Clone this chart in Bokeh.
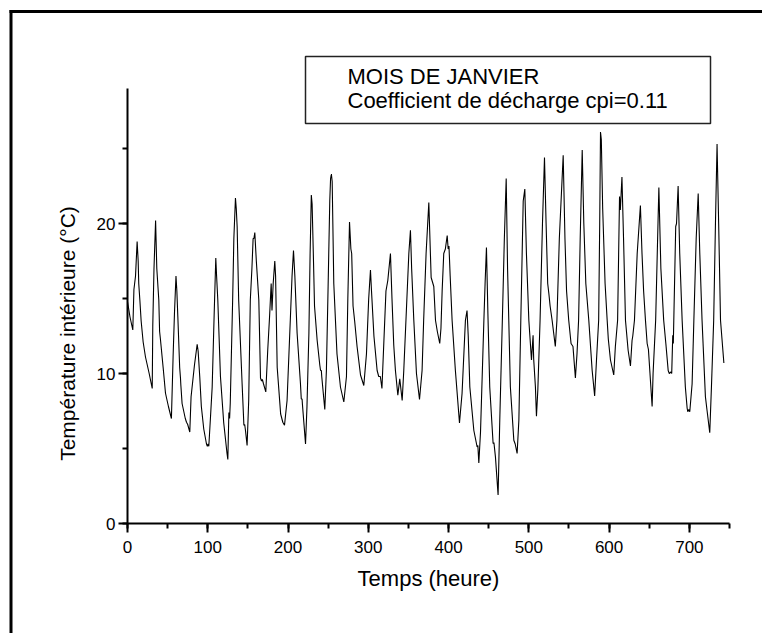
from math import pi
from bokeh.plotting import figure
from bokeh.models import Range1d, BoxAnnotation, Label, SingleIntervalTicker, LinearAxis
from bokeh.embed import file_html
from bokeh.resources import INLINE

# ---- data ----
hours = [
    0, 3, 6.6, 8, 10, 12, 13.3, 14, 15.4, 17, 19.5, 22.4, 27, 30.8, 31.5, 33, 35,
    36.5, 39, 40, 41, 44.4, 47.3, 48.5, 51, 54.7, 56.8, 58.5, 60.4,
    61.5, 62.7, 65, 66, 66.5, 68, 72, 73.5, 75, 77.6, 79.2, 83.4, 86.8,
    88, 90, 92, 95, 98.4, 99.5, 100.5, 101.3, 103.4, 105.5, 108, 110,
    111, 112.5, 115.8, 119.9, 124, 125, 126.3, 127.2, 128, 131, 132.5, 134.5,
    135.5, 136.6, 138.5, 142.8, 145, 146, 147, 149, 151, 153, 155, 156.5, 157.5, 158.6,
    160.5, 163.6, 165.7, 167, 168, 169.5, 172.3, 174.7, 177, 179, 180, 181.5, 183.5,
    184.5, 186.5, 190.8, 193.5, 195.6, 198.8, 203, 205, 206.8,
    208.5, 211.3, 215.5, 216.5, 217.5, 218, 221.8, 223.6, 226, 227.5, 229,
    230, 231.5, 233, 236.3, 239.6, 240.5, 241.5, 242, 245.8, 247.8, 250, 252, 253, 254, 255,
    257, 261, 265.3, 269.5, 272.8, 274.5, 276.6, 278.3, 279.3, 281,
    283, 286, 290.3, 294.4, 297.7, 300.5, 302.7,
    304, 307, 311, 313, 315, 317, 319.3, 322, 324.3, 327.6,
    329.5, 331.7, 333.8, 336.8, 339.2, 342.2, 344.2, 348, 350.5, 352.5,
    354, 356.7, 360, 363.8, 367, 369, 372, 375.4,
    376.5, 378.3, 381.6, 383.7, 386, 389, 390.5, 392, 394, 396, 398.3, 399.5, 400.5,
    402, 404.4, 408.5, 413.6, 416.8, 421, 423,
    424.5, 426.5, 431.5, 435.6, 436.5, 437.7, 439.8, 444, 445.5, 447.2,
    449, 451.3, 455.5, 456.5, 458.4, 461.7, 463.8, 467, 469.5, 471.8,
    473.5, 477, 481.3, 483, 485.4, 487.6, 490, 493, 495,
    497, 500, 503.3, 505.3, 506, 508.2, 509.5, 511.2, 514, 517, 519.5,
    521.5, 523.5, 525, 526.5, 529, 533, 535, 538, 542.8,
    545, 547, 549.7, 552.6, 555, 558, 560, 562, 564, 566.5,
    568.5, 571, 574.7, 578.9, 582, 584.3, 587, 588.3, 589.3, 590.3,
    592, 595, 597.6, 599, 601.7, 605.8, 607.8, 610.6, 613, 614, 616,
    618, 620.4, 623.7, 626.6, 628.6, 629.5, 631.6, 635, 639,
    641, 643, 645.3, 647.4, 649, 653.6, 654.8, 658, 660, 662,
    664.5, 668, 670.7, 673.6, 675, 677, 678, 679.3, 680, 683, 684, 686,
    688, 691, 695, 697.2, 698, 699.3, 700.5, 703.4, 705.6, 708.5, 711,
    713, 715.8, 720, 722, 725.4, 727.5, 730.3, 732.5, 734.5,
    736.5, 738.8, 743,
]
temperature = [
    14.8, 13.8, 12.9, 15.6, 16.5, 18.8, 17.5, 16.0, 14.9, 13.5, 12.1, 11.1, 10.0, 9.0, 13.2, 17.0, 20.2,
    17.0, 14.9, 12.8, 12.3, 10.4, 8.7, 8.4, 7.8, 7.0, 11.1, 14.0, 16.5,
    15.5, 13.8, 10.4, 9.7, 9.2, 8.0, 7.0, 6.75, 6.6, 6.1, 8.45, 10.55, 11.95,
    11.5, 9.8, 7.8, 6.3, 5.3, 5.15, 5.3, 5.15, 7.1, 9.1, 14.0, 17.7,
    16.5, 14.9, 9.8, 6.7, 4.67, 4.27, 7.4, 7.0, 8.0, 14.9, 19.0, 21.7,
    21.0, 19.8, 14.9, 9.3, 6.55, 6.6, 6.2, 5.2, 8.2, 14.9, 17.0, 19.0, 19.0, 19.4,
    17.5, 14.9, 9.7, 9.5, 9.6, 9.3, 8.77, 11.55, 13.8, 16.0, 14.2, 16.0, 17.5,
    16.5, 10.4, 7.3, 6.75, 6.55, 8.2, 13.8, 16.5, 18.2,
    16.5, 12.7, 9.3, 8.3, 8.3, 7.9, 5.3, 7.8, 12.7, 18.0, 21.9,
    21.3, 18.0, 14.5, 12.2, 10.55, 10.2, 10.2, 9.8, 7.6, 10.2, 16.0, 21.5, 23.0, 23.3, 22.8,
    16.0, 11.3, 9.1, 8.1, 9.8, 15.0, 20.1, 18.3, 18.0, 14.5,
    13.5, 11.8, 9.9, 9.2, 11.3, 15.0, 16.9,
    15.5, 12.5, 10.2, 9.8, 9.8, 9.0, 12.0, 15.5, 16.2, 18.0,
    15.0, 11.9, 10.2, 8.55, 9.65, 8.2, 10.2, 14.9, 18.0, 19.55,
    17.0, 13.55, 10.0, 8.27, 10.2, 13.6, 18.0, 21.4,
    19.5, 16.4, 15.8, 13.55, 12.8, 12.0, 13.0, 15.5, 18.0, 18.3, 19.2, 18.3, 18.5,
    16.5, 13.55, 10.2, 6.7, 8.67, 13.55, 14.2,
    12.5, 9.1, 6.2, 5.1, 5.2, 4.04, 6.1, 13.55, 16.0, 18.4,
    14.0, 9.1, 5.33, 5.4, 4.44, 1.9, 6.9, 13.55, 19.0, 23.0,
    17.0, 9.1, 5.55, 5.3, 4.67, 6.9, 13.55, 21.5, 22.3,
    18.0, 13.55, 10.9, 12.55, 11.0, 9.1, 7.15, 8.9, 13.55, 20.0, 24.4,
    20.0, 16.0, 15.3, 14.5, 13.55, 11.8, 13.55, 19.0, 24.55,
    19.0, 15.5, 13.55, 12.0, 11.8, 9.7, 11.3, 13.55, 19.0, 24.9,
    20.0, 16.0, 13.55, 10.2, 8.5, 10.9, 13.55, 20.0, 26.1, 25.6,
    21.0, 16.0, 13.55, 12.3, 10.9, 9.9, 11.8, 13.55, 21.8, 20.9, 23.1,
    19.0, 13.55, 11.55, 10.5, 12.2, 12.5, 13.55, 18.0, 21.2,
    18.0, 15.5, 13.55, 12.0, 11.6, 7.8, 10.0, 13.55, 18.0, 22.4,
    17.0, 13.55, 12.0, 10.2, 10.0, 10.1, 10.0, 12.55, 12.0, 19.8, 20.0, 22.5,
    18.0, 13.55, 9.1, 7.7, 7.45, 7.6, 7.45, 9.3, 13.55, 19.0, 22.0,
    18.0, 13.55, 8.45, 7.55, 6.05, 9.1, 13.55, 20.0, 25.3,
    20.0, 13.55, 10.7,
]

x_axis_bounds = (0, 750)
y_axis_bounds = (0, 29)
x_title = "Temps (heure)"
y_title = "Température intérieure (°C)"
legend_lines = ["MOIS DE JANVIER", "Coefficient de décharge cpi=0.11"]

FONT = "Liberation Sans"
W, H = 762, 633
# pixel placement of the axes box inside the picture
AX_L, AX_R, AX_T, AX_B = 127, 729, 88, 523
sx = (AX_R - AX_L) / (x_axis_bounds[1] - x_axis_bounds[0])
sy = (AX_B - AX_T) / (y_axis_bounds[1] - y_axis_bounds[0])
x_range = Range1d(x_axis_bounds[0] - AX_L / sx, x_axis_bounds[1] + (W - AX_R) / sx)
y_range = Range1d(y_axis_bounds[0] - (H - AX_B) / sy, y_axis_bounds[1] + AX_T / sy)

p = figure(width=W, height=H, output_backend="svg", toolbar_location=None,
           x_range=x_range, y_range=y_range,
           x_axis_type=None, y_axis_type=None,
           min_border=0)
p.outline_line_color = None
p.background_fill_color = "white"
p.border_fill_color = "white"
p.xgrid.visible = False
p.ygrid.visible = False

p.line(hours, temperature, line_color="black", line_width=1.1)

xaxis = LinearAxis(fixed_location=0, bounds=x_axis_bounds,
                   ticker=SingleIntervalTicker(interval=100, num_minor_ticks=2))
yaxis = LinearAxis(fixed_location=0, bounds=y_axis_bounds,
                   ticker=SingleIntervalTicker(interval=10, num_minor_ticks=2))
for ax in (xaxis, yaxis):
    ax.axis_line_width = 2
    ax.axis_line_color = "black"
    ax.major_tick_line_width = 2
    ax.minor_tick_line_width = 2
    ax.major_tick_line_color = "black"
    ax.minor_tick_line_color = "black"
    ax.major_tick_in = 0
    ax.minor_tick_in = 0
    ax.major_label_text_font = FONT
    ax.major_label_text_font_size = "17px"
    ax.major_label_text_color = "black"
xaxis.major_tick_out = 9
xaxis.minor_tick_out = 5
xaxis.major_label_standoff = 8
yaxis.major_tick_out = 9
yaxis.minor_tick_out = 5
yaxis.major_label_standoff = 3
p.add_layout(xaxis, "below")
p.add_layout(yaxis, "left")

TS = "22px"
# axis titles (screen units: from frame left / frame bottom)
p.add_layout(Label(x=428, y=H - 578, x_units="screen", y_units="screen", text=x_title,
                   text_font=FONT, text_font_size=TS, text_color="black",
                   text_align="center", text_baseline="alphabetic"))
p.add_layout(Label(x=67, y=H - 333, x_units="screen", y_units="screen", text=y_title,
                   angle=pi / 2, text_font=FONT, text_font_size="21px", text_color="black",
                   text_align="center", text_baseline="alphabetic"))

# legend box
p.add_layout(BoxAnnotation(left=305, right=710, bottom=H - 123, top=H - 56,
                           left_units="screen", right_units="screen",
                           bottom_units="screen", top_units="screen",
                           fill_color=None, fill_alpha=0,
                           line_color="#222222", line_alpha=1, line_width=1.5))
p.add_layout(Label(x=347, y=H - 76, x_units="screen", y_units="screen", text=legend_lines[0],
                   text_font=FONT, text_font_size=TS, text_color="black",
                   text_baseline="alphabetic"))
p.add_layout(Label(x=347, y=H - 100, x_units="screen", y_units="screen", text=legend_lines[1],
                   text_font=FONT, text_font_size=TS, text_color="black",
                   text_baseline="alphabetic"))

# outer picture frame: only its left and top sides are inside the picture
p.add_layout(BoxAnnotation(left=9, right=12, bottom=0, top=H - 9.5,
                           left_units="screen", right_units="screen",
                           bottom_units="screen", top_units="screen",
                           fill_color="black", fill_alpha=1, line_color=None))
p.add_layout(BoxAnnotation(left=9, right=W, bottom=H - 12.5, top=H - 9.5,
                           left_units="screen", right_units="screen",
                           bottom_units="screen", top_units="screen",
                           fill_color="black", fill_alpha=1, line_color=None))

open("out.html", "w").write(file_html(p, INLINE))
